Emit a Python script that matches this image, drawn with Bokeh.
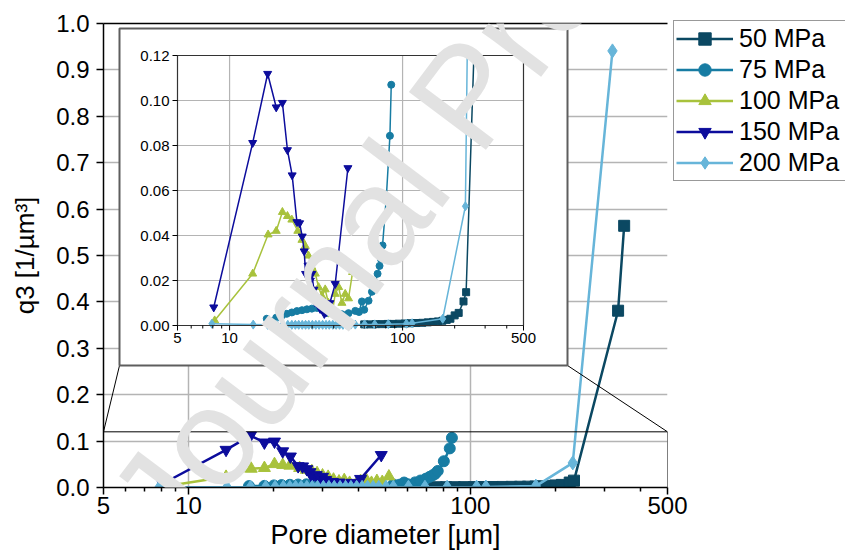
import math
from bokeh.plotting import figure
from bokeh.models import (FixedTicker, PrintfTickFormatter, Legend, LegendItem, Label, Range1d,
                          LogScale, LinearScale)
from bokeh.core.properties import value
from bokeh.embed import file_html
from bokeh.resources import INLINE

FONT = "Liberation Sans"

# ---------------- data ----------------
names = ["50 MPa", "75 MPa", "100 MPa", "150 MPa", "200 MPa"]
colors = ["#0b4862", "#177ca3", "#a8c23c", "#0c0c9c", "#67b5d9"]
markers = ["square", "circle", "triangle", "inverted_triangle", "diamond"]

x50 = [60, 65, 70, 76, 82, 88, 95, 103, 111, 120, 130, 140, 150, 160, 170, 180, 189, 200, 211, 225, 233, 334, 351]
y50 = [0.0005, 0.0005, 0.0006, 0.0006, 0.0007, 0.0007, 0.0008, 0.0009, 0.0010, 0.0011, 0.0012, 0.0014,
       0.0016, 0.0018, 0.0021, 0.0025, 0.0030, 0.0045, 0.0056, 0.0107, 0.0148, 0.381, 0.564]

x75 = [16.4, 18.6, 20.1, 21.4, 22.9, 24.5, 26.2, 28.0, 29.9, 32.0, 34.2, 37.3, 40.8, 44.6, 48.7, 53.3,
       56.0, 58.2, 60.0, 63.6, 66.5, 69.5, 71.7, 73.6, 75.0, 76.6, 80.5, 84.5, 86.0]
y75 = [0.0030, 0.0035, 0.0045, 0.0052, 0.0058, 0.0064, 0.0068, 0.0072, 0.0075, 0.0078, 0.0072, 0.0055,
       0.0048, 0.0050, 0.0055, 0.0065, 0.0060, 0.0107, 0.0070, 0.0110, 0.0150, 0.0190, 0.0230, 0.0265,
       0.0295, 0.0356, 0.0566, 0.0843, 0.1070]

x100 = [8.2, 13.6, 16.7, 18.6, 20.2, 21.6, 22.9, 24.8, 26.2, 27.4, 28.6, 29.9, 31.3, 32.7, 34.2, 35.7,
        37.3, 39.1, 40.8, 42.7, 44.6, 46.6, 48.7, 51.4]
y100 = [0.0022, 0.0230, 0.0404, 0.0420, 0.0504, 0.0486, 0.0470, 0.0420, 0.0380, 0.0353, 0.0310, 0.0260,
        0.0230, 0.0170, 0.0130, 0.0160, 0.0100, 0.0050, 0.0140, 0.0170, 0.0100, 0.0140, 0.0120, 0.0237]

x150 = [8.1, 13.6, 16.6, 18.6, 20.2, 21.6, 23.0, 24.5, 25.4, 26.3, 27.0, 27.5, 28.4, 29.3, 29.9, 30.7,
        31.2, 32.4, 33.4, 34.2, 35.3, 36.2, 38.0, 40.8, 48.3]
y150 = [0.0081, 0.0812, 0.1119, 0.0970, 0.0990, 0.0780, 0.0668, 0.0460, 0.0455, 0.0396, 0.0330, 0.0230,
        0.0267, 0.0200, 0.0230, 0.0160, 0.0104, 0.0120, 0.0074, 0.0107, 0.0052, 0.0060, 0.0100, 0.0185,
        0.0700]

x200 = [7.9, 13.7, 16.6, 18.8, 20.3, 21.7, 22.9, 24.0, 25.1, 26.3, 27.5, 28.7, 30.1, 31.5, 32.9, 34.5,
        36.1, 37.7, 39.5, 41.3, 43.2, 45.2, 47.3, 50.2, 53.3, 60.3, 69.0, 82.7, 105.2, 113.5, 170.6,
        230.7, 319]
y200 = [0.0008, 0.0004, 0.0003, 0.0003, 0.0003, 0.0003, 0.0003, 0.0003, 0.0003, 0.0003, 0.0003, 0.0003,
        0.0003, 0.0003, 0.0003, 0.0003, 0.0003, 0.0003, 0.0003, 0.0003, 0.0003, 0.0003, 0.0004, 0.0004,
        0.0004, 0.0005, 0.0005, 0.0006, 0.0008, 0.0010, 0.0030, 0.0530, 0.9410]

xs = [x50, x75, x100, x150, x200]
ys = [y50, y75, y100, y150, y200]

x_ticks = [5, 10, 100, 500]
x_tick_labels = ["5", "10", "100", "500"]
x_minor = [6, 7, 8, 9, 20, 30, 40, 50, 60, 70, 80, 90, 200, 300, 400]
y_ticks_main = [0.0, 0.1, 0.2, 0.3, 0.4, 0.5, 0.6, 0.7, 0.8, 0.9, 1.0]
y_ticks_inset = [0.00, 0.02, 0.04, 0.06, 0.08, 0.10, 0.12]
y_tick_labels_inset = ["0.00", "0.02", "0.04", "0.06", "0.08", "0.10", "0.12"]
X_RANGE = (5, 500)
Y_RANGE = (0.0, 1.0)
Y_RANGE_INSET = (0.0, 0.12)
X_LABEL = "Pore diameter [µm]"
Y_LABEL = "q3 [1/µm³]"
WATERMARK = "Journal Pre-proof"

# ---------------- layout constants (canvas pixels) ----------------
W, H = 845, 558
FRAME_L, FRAME_T, FRAME_W, FRAME_H = 103, 23, 564, 464
FRAME_R, FRAME_B = FRAME_L + FRAME_W, FRAME_T + FRAME_H
IN_PL, IN_PR, IN_PT, IN_PB = 177, 523, 55, 325      # inset plot area
IB_L, IB_T, IB_R, IB_B = 119, 28, 567, 365          # inset chart-area box

LA, LB = math.log10(X_RANGE[0]), math.log10(X_RANGE[1])
KX = (LB - LA) / (IN_PR - IN_PL)
KY = (Y_RANGE_INSET[1] - Y_RANGE_INSET[0]) / (IN_PB - IN_PT)


def ix_shift(x, dpx):
    return 10 ** (math.log10(x) + dpx * KX)


def iy_shift(y, dpx_down):
    return y - dpx_down * KY


def main_px_x(x):
    return FRAME_L + (math.log10(x) - LA) / (LB - LA) * FRAME_W


def main_px_y(y):
    return FRAME_B - (y - Y_RANGE[0]) / (Y_RANGE[1] - Y_RANGE[0]) * FRAME_H


p = figure(x_axis_type="log", x_range=Range1d(*X_RANGE), y_range=Range1d(*Y_RANGE),
           frame_width=FRAME_W, frame_height=FRAME_H,
           min_border_left=FRAME_L, min_border_top=FRAME_T,
           min_border_right=W - FRAME_R, min_border_bottom=H - FRAME_B,
           output_backend="svg", toolbar_location=None)
p.title = None
p.outline_line_color = None
p.background_fill_color = "white"
p.border_fill_color = "white"

p.extra_x_ranges = {
    "ix": Range1d(10 ** (LA - (IN_PL - FRAME_L) * KX), 10 ** (LB + (FRAME_R - IN_PR) * KX)),
    "px": Range1d(FRAME_L, FRAME_R),
}
p.extra_y_ranges = {
    "iy": Range1d(Y_RANGE_INSET[0] - (FRAME_B - IN_PB) * KY, Y_RANGE_INSET[1] + (IN_PT - FRAME_T) * KY),
    "py": Range1d(FRAME_B, FRAME_T),
}
p.extra_x_scales = {"ix": LogScale(), "px": LinearScale()}
p.extra_y_scales = {"iy": LinearScale(), "py": LinearScale()}

# ---------------- main axes ----------------
for ax in p.axis:
    ax.axis_line_color = "black"
    ax.axis_line_width = 1.5
    ax.major_tick_line_color = "black"
    ax.major_tick_line_width = 1.5
    ax.minor_tick_line_color = "black"
    ax.minor_tick_line_width = 1.5
    ax.major_tick_in = 0
    ax.major_tick_out = 7
    ax.minor_tick_in = 0
    ax.minor_tick_out = 4
    ax.major_label_text_font = FONT
    ax.major_label_text_font_size = "24px"
    ax.major_label_text_color = "black"
    ax.axis_label_text_font = FONT
    ax.axis_label_text_font_style = "normal"
    ax.axis_label_text_color = "black"
p.xaxis.ticker = FixedTicker(ticks=x_ticks, minor_ticks=x_minor)
p.xaxis.formatter = PrintfTickFormatter(format="%d")
p.yaxis.ticker = FixedTicker(ticks=y_ticks_main, minor_ticks=[])
p.yaxis.formatter = PrintfTickFormatter(format="%.1f")
p.xaxis.major_label_standoff = 2
p.yaxis.major_label_standoff = 7
p.xaxis.axis_label = X_LABEL
p.yaxis.axis_label = Y_LABEL
p.xaxis.axis_label_text_font_size = "27px"
p.yaxis.axis_label_text_font_size = "26px"
p.xaxis.axis_label_standoff = 3
p.yaxis.axis_label_standoff = 13
p.xgrid.grid_line_color = "#b4b4b4"
p.ygrid.grid_line_color = "#b4b4b4"
p.xgrid.grid_line_width = 1.5
p.ygrid.grid_line_width = 1.5

# ---------------- main data ----------------
items = []
main_sizes = {"square": 11, "circle": 11, "triangle": 12, "inverted_triangle": 12, "diamond": 14}
for name, c, m, x, y in zip(names, colors, markers, xs, ys):
    lr = p.line(x, y, line_color=c, line_width=2.5)
    sr = p.scatter(x, y, marker=m, size=main_sizes[m], fill_color=c, line_color=c)
    items.append(LegendItem(label=name, renderers=[lr, sr]))

# zoom rectangle and connector lines
p.quad(left=[X_RANGE[0]], right=[X_RANGE[1]], bottom=[Y_RANGE_INSET[0]], top=[Y_RANGE_INSET[1]],
       fill_alpha=0, line_color="black", line_width=1)
p.segment(x0=[main_px_x(X_RANGE[0]), main_px_x(X_RANGE[1])],
          y0=[main_px_y(Y_RANGE_INSET[1])] * 2,
          x1=[IB_L, IB_R], y1=[IB_B, IB_B],
          x_range_name="px", y_range_name="py", line_color="black", line_width=1)

# ---------------- inset ----------------
LV = "annotation"
p.quad(left=[IB_L], right=[IB_R], top=[IB_T], bottom=[IB_B], x_range_name="px", y_range_name="py",
       fill_color="white", line_color=None, level=LV)
p.segment(x0=x_ticks[1:-1], x1=x_ticks[1:-1], y0=[Y_RANGE_INSET[0]] * 2, y1=[Y_RANGE_INSET[1]] * 2,
          x_range_name="ix", y_range_name="iy", line_color="#b4b4b4", line_width=1.2, level=LV)
p.segment(x0=[X_RANGE[0]] * len(y_ticks_inset), x1=[X_RANGE[1]] * len(y_ticks_inset),
          y0=y_ticks_inset, y1=y_ticks_inset,
          x_range_name="ix", y_range_name="iy", line_color="#b4b4b4", line_width=1.2, level=LV)
inset_sizes = {"square": 7, "circle": 7, "triangle": 8, "inverted_triangle": 8, "diamond": 9}
for name, c, m, x, y in zip(names, colors, markers, xs, ys):
    p.line(x, y, line_color=c, line_width=1.5, x_range_name="ix", y_range_name="iy", level=LV)
    p.scatter(x, y, marker=m, size=inset_sizes[m], fill_color=c, line_color=c,
              x_range_name="ix", y_range_name="iy", level=LV)
# white strip above the inset plot area, up to the canvas top (hides lines running past 0.12)
p.quad(left=[IB_L], right=[IB_R], top=[-5], bottom=[IN_PT - 1], x_range_name="px", y_range_name="py",
       fill_color="white", line_color=None, level=LV)
p.quad(left=[X_RANGE[0]], right=[X_RANGE[1]], bottom=[Y_RANGE_INSET[0]], top=[Y_RANGE_INSET[1]],
       x_range_name="ix", y_range_name="iy", fill_alpha=0, line_color="#333333", line_width=1.2, level=LV)
p.quad(left=[IB_L], right=[IB_R], top=[IB_T], bottom=[IB_B], x_range_name="px", y_range_name="py",
       fill_alpha=0, line_color="#5e5e5e", line_width=2, level=LV)
p.segment(x0=x_ticks, x1=x_ticks, y0=[Y_RANGE_INSET[0]] * 4, y1=[iy_shift(Y_RANGE_INSET[0], 5)] * 4,
          x_range_name="ix", y_range_name="iy", line_color="black", line_width=1, level=LV)
p.segment(x0=x_minor, x1=x_minor, y0=[Y_RANGE_INSET[0]] * len(x_minor),
          y1=[iy_shift(Y_RANGE_INSET[0], 3)] * len(x_minor),
          x_range_name="ix", y_range_name="iy", line_color="black", line_width=1, level=LV)
p.segment(x0=[X_RANGE[0]] * len(y_ticks_inset), x1=[ix_shift(X_RANGE[0], -5)] * len(y_ticks_inset),
          y0=y_ticks_inset, y1=y_ticks_inset,
          x_range_name="ix", y_range_name="iy", line_color="black", line_width=1, level=LV)
p.text(x=x_ticks, y=[iy_shift(Y_RANGE_INSET[0], 7)] * 4, text=x_tick_labels,
       x_range_name="ix", y_range_name="iy", text_font=value(FONT), text_font_size="15px",
       text_color="black", text_align="center", text_baseline="top", level=LV)
p.text(x=[ix_shift(X_RANGE[0], -8)] * len(y_ticks_inset), y=y_ticks_inset, text=y_tick_labels_inset,
       x_range_name="ix", y_range_name="iy", text_font=value(FONT), text_font_size="15px",
       text_color="black", text_align="right", text_baseline="middle", level=LV)
# top border of the main plot area
p.segment(x0=[X_RANGE[0]], x1=[X_RANGE[1]], y0=[Y_RANGE[1]], y1=[Y_RANGE[1]],
          line_color="black", line_width=1.5, level=LV)

# ---------------- legend ----------------
legend = Legend(items=items, location=(6, 306))
legend.label_text_font = FONT
legend.label_text_font_size = "25px"
legend.label_text_color = "black"
legend.glyph_width = 57
legend.glyph_height = 31
legend.label_height = 31
legend.label_width = 104
legend.label_standoff = 6
legend.spacing = 0
legend.padding = 2
legend.margin = 0
legend.border_line_color = "#333333"
legend.border_line_width = 1.5
legend.background_fill_color = "white"
legend.background_fill_alpha = 1.0
p.add_layout(legend, "right")

# ---------------- watermark ----------------
p.add_layout(Label(x=140, y=527, x_range_name="px", y_range_name="py", text=WATERMARK,
                   angle=math.radians(53), text_font=FONT, text_font_size="140px",
                   text_color="#e2e2e2", text_align="left", text_baseline="alphabetic",
                   level="overlay"))

open("out.html", "w").write(file_html(p, INLINE))
